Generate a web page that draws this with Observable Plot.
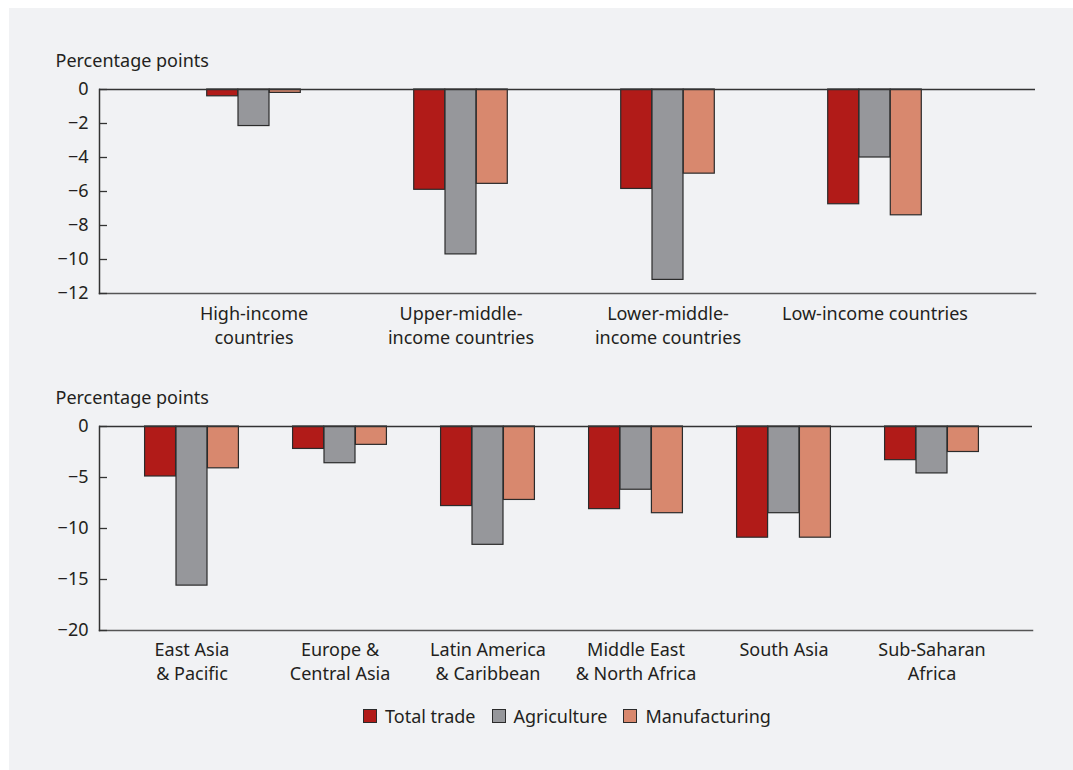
<!DOCTYPE html>
<html><head><meta charset="utf-8">
<script src="https://cdn.jsdelivr.net/npm/d3@7"></script>
<script src="https://cdn.jsdelivr.net/npm/@observablehq/plot@0.6"></script>
<style>
html,body{margin:0;padding:0;background:#fff;}
#panel{position:absolute;left:9px;top:8px;width:1064px;height:762px;background:#f1f2f4;font-family:"Noto Sans",sans-serif;color:#231f20;}
#panel svg{display:block;}
#legend{position:absolute;left:90px;width:936px;top:697px;height:22px;display:flex;justify-content:center;align-items:center;font-size:18px;}
.item{display:flex;align-items:center;margin:0 8px;}
.sw{width:12px;height:12px;border:1px solid #2b2b2b;margin-right:8px;}
</style></head><body>
<div id="panel"><div id="top"></div><div id="bottom"></div><div id="legend"></div></div>
<script>
const series = ["Total trade", "Agriculture", "Manufacturing"];
const colors = ["#b11b18", "#96979b", "#d8886e"];

const incomeGroups = ["High-income\ncountries", "Upper-middle-\nincome countries", "Lower-middle-\nincome countries", "Low-income countries"];
const incomeTotal = [-0.4, -5.9, -5.85, -6.75];
const incomeAgri = [-2.15, -9.7, -11.2, -4.0];
const incomeManuf = [-0.2, -5.55, -4.95, -7.4];
const incomeTicks = [0, -2, -4, -6, -8, -10, -12];

const regions = ["East Asia\n& Pacific", "Europe &\nCentral Asia", "Latin America\n& Caribbean", "Middle East\n& North Africa", "South Asia", "Sub-Saharan\nAfrica"];
const regionTotal = [-4.9, -2.2, -7.8, -8.1, -10.9, -3.3];
const regionAgri = [-15.6, -3.6, -11.6, -6.2, -8.5, -4.6];
const regionManuf = [-4.1, -1.8, -7.2, -8.5, -10.9, -2.5];
const regionTicks = [0, -5, -10, -15, -20];

const yLabel = "Percentage points";

function chart(cats, vals, ticks, o) {
  const W = 1064;
  const band = d3.scaleBand().domain(cats).range([o.ml, W - o.mr])
    .paddingInner(o.pi).paddingOuter(o.po).align(o.al);
  const bw = band.bandwidth();
  const marks = [];
  series.forEach((s, i) => {
    const rows = cats.map((c, j) => ({cat: c, value: vals[i][j], series: s}));
    marks.push(Plot.barY(rows, {x: "cat", y: "value", fill: colors[i], stroke: "#2b2b2b", strokeWidth: 1.2, dx: (i - 1) * bw}));
  });
  marks.push(Plot.ruleY([0], {stroke: "#333", strokeWidth: 1.5}));
  marks.push(Plot.frame({anchor: "bottom", stroke: "#555", strokeWidth: 1.5}));
  marks.push(Plot.frame({anchor: "left", stroke: "#333", strokeWidth: 1.5}));
  marks.push(Plot.axisY({ticks, tickSize: 0, tickPadding: 11, label: null, fontSize: 18, fill: "#231f20"}));
  marks.push(Plot.axisY({ticks, tickSize: 8, dx: 8, fill: "none", label: null, stroke: "#333", strokeWidth: 1.3}));
  marks.push(Plot.axisX({tickSize: 0, tickPadding: o.tp, lineHeight: 1.3, label: null, fontSize: 18, fill: "#231f20"}));
  marks.push(Plot.text([yLabel], {frameAnchor: "top-left", textAnchor: "start", lineAnchor: "middle", dx: -44, dy: -28, fontSize: 18, fill: "#231f20"}));
  return Plot.plot({
    width: W, height: o.h,
    marginLeft: o.ml, marginRight: o.mr, marginTop: o.mt, marginBottom: o.mb,
    x: {type: "band", domain: cats, paddingInner: o.pi, paddingOuter: o.po, align: o.al},
    y: {domain: [ticks[ticks.length - 1], 0]},
    style: {background: "transparent", fontFamily: "'Noto Sans', sans-serif", fontSize: "18px", color: "#231f20", overflow: "visible"},
    marks
  });
}

document.getElementById("top").append(
  chart(incomeGroups, [incomeTotal, incomeAgri, incomeManuf], incomeTicks,
    {h: 345, ml: 90, mr: 38, mt: 81, mb: 60, pi: 0.849, po: 0.683, al: 0.489, tp: 10}));
document.getElementById("bottom").append(
  chart(regions, [regionTotal, regionAgri, regionManuf], regionTicks,
    {h: 342, ml: 90, mr: 41, mt: 73, mb: 65, pi: 0.788, po: 0.542, al: 0.475, tp: 9}));

const leg = d3.select("#legend");
series.forEach((s, i) => {
  const it = leg.append("div").attr("class", "item");
  it.append("div").attr("class", "sw").style("background", colors[i]);
  it.append("span").text(s);
});
</script>
</body></html>
